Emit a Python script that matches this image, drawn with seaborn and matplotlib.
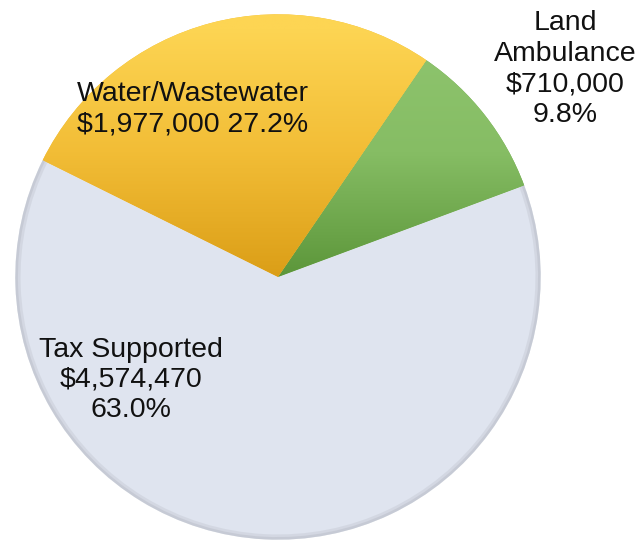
import numpy as np
import matplotlib
matplotlib.use("Agg")
import matplotlib.pyplot as plt
import seaborn as sns
from matplotlib.colors import LinearSegmentedColormap
from matplotlib.patches import Wedge

categories = ["Land\nAmbulance", "Water/Wastewater", "Tax Supported"]
values = [710000, 1977000, 4574470]
value_labels = ["$710,000", "$1,977,000", "$4,574,470"]
pct_labels = ["9.8%", "27.2%", "63.0%"]

sns.set_theme(style="white")
plt.rcParams['font.family'] = ['Liberation Sans', 'DejaVu Sans']

W, H = 638, 540
fig = plt.figure(figsize=(W / 100, H / 100), dpi=100)
cx, cy, r = 278, 277, 264
ax = fig.add_axes([(cx - r) / W, (H - cy - r) / H, 2 * r / W, 2 * r / H])

wedges, _ = ax.pie(values, startangle=20.4, counterclock=True, radius=1,
                   colors=["#76ad55", "#f0bb35", "#dfe4ef"],
                   wedgeprops=dict(linewidth=0))

# gradients
grads = [
    ["#5c963a", "#86bd64", "#8fc56f"],
    ["#db9e17", "#f2bd36", "#fdd553"],
]
yy = np.linspace(-1, 1, 300)[:, None] * np.ones((1, 10))
for cols, w in zip(grads, wedges[:2]):
    cmap = LinearSegmentedColormap.from_list("g", cols)
    img = ax.imshow(yy, extent=[-1, 1, -1, 1], origin="lower", cmap=cmap,
                    vmin=0.0, vmax=0.95, aspect="auto", zorder=2)
    img.set_clip_path(w)

# subtle rim shadow on tax slice
tw = wedges[2]
for wd, a in [(0.02, 0.25), (0.01, 0.35)]:
    rim = Wedge((0, 0), 1.0, tw.theta1, tw.theta2, width=wd,
                facecolor="#b0b4bd", edgecolor="none", alpha=a, zorder=3)
    ax.add_patch(rim)

ax.set_xlim(-1.005, 1.005)
ax.set_ylim(-1.005, 1.005)
ax.set_aspect("auto")
ax.axis("off")

fs = 20.5
def ftext(x, y, s):
    fig.text(x / W, 1 - y / H, s, ha="center", va="center", fontsize=fs,
             color="#111111", linespacing=1.22)

ftext(565, 69, categories[0] + "\n" + value_labels[0] + "\n" + pct_labels[0])
ftext(193, 109, categories[1] + "\n" + value_labels[1] + " " + pct_labels[1])
ftext(131, 380, categories[2] + "\n" + value_labels[2] + "\n" + pct_labels[2])

fig.savefig("out.png", dpi=100)
